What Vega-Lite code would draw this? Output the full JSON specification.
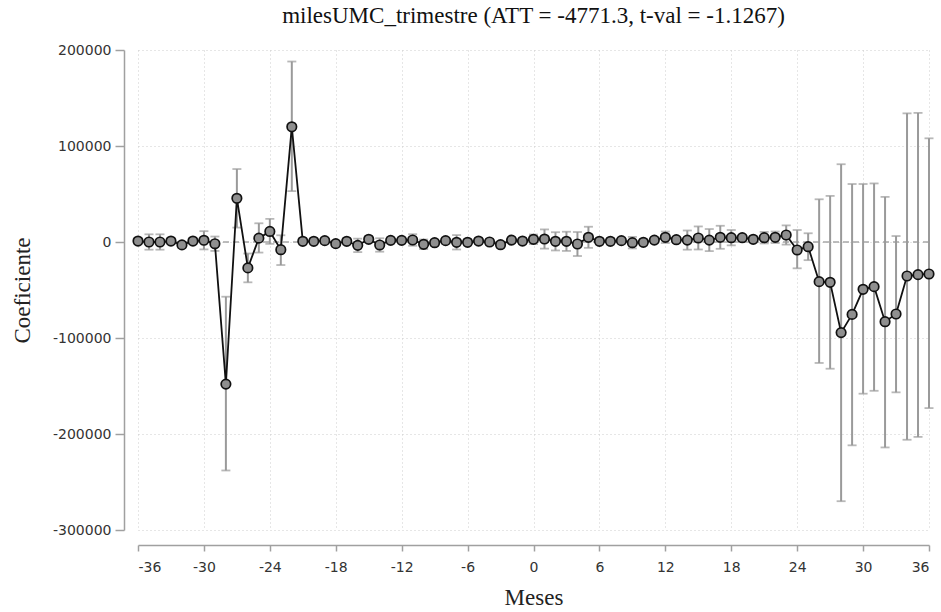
{
  "$schema": "https://vega.github.io/schema/vega-lite/v6.json",
  "width": 791,
  "height": 480,
  "autosize": "none",
  "padding": {"left": 138, "top": 50, "right": 12, "bottom": 82},
  "background": "white",
  "config": {
    "font": "Liberation Serif",
    "view": {"stroke": null},
    "axis": {
      "labelFont": "DejaVu Sans",
      "titleFont": "Liberation Serif",
      "labelFontSize": 14,
      "labelColor": "#333333",
      "titleFontSize": 23,
      "titleFontWeight": "normal",
      "titleColor": "#222222",
      "domainColor": "#a0a0a0",
      "domainWidth": 1.5,
      "tickColor": "#a0a0a0",
      "tickSize": 7,
      "tickWidth": 1.5,
      "grid": true,
      "gridColor": "#cccccc",
      "gridDash": [1, 3],
      "gridWidth": 1
    }
  },
  "title": {
    "text": "milesUMC_trimestre (ATT = -4771.3, t-val = -1.1267)",
    "font": "Liberation Serif",
    "fontSize": 23,
    "fontWeight": "normal",
    "color": "#111111",
    "anchor": "middle",
    "offset": 15
  },
  "data": {
    "values": [
      {"m": -36, "b": 1000, "lo": -2000, "hi": 4000},
      {"m": -35, "b": 0, "lo": -8000, "hi": 8000},
      {"m": -34, "b": 0, "lo": -8000, "hi": 8000},
      {"m": -33, "b": 1000, "lo": -2000, "hi": 4000},
      {"m": -32, "b": -3000, "lo": -6000, "hi": 0},
      {"m": -31, "b": 1000, "lo": -2000, "hi": 4000},
      {"m": -30, "b": 1800, "lo": -7700, "hi": 11300},
      {"m": -29, "b": -1800, "lo": -9300, "hi": 5700},
      {"m": -28, "b": -148000, "lo": -238000, "hi": -57000},
      {"m": -27, "b": 45500, "lo": 15000, "hi": 76000},
      {"m": -26, "b": -27000, "lo": -42000, "hi": -12000},
      {"m": -25, "b": 4000, "lo": -11000, "hi": 19500},
      {"m": -24, "b": 11000, "lo": -2000, "hi": 24000},
      {"m": -23, "b": -8000, "lo": -24000, "hi": 7000},
      {"m": -22, "b": 120000, "lo": 53000, "hi": 188000},
      {"m": -21, "b": 700, "lo": -2300, "hi": 3700},
      {"m": -20, "b": 700, "lo": -2300, "hi": 3700},
      {"m": -19, "b": 1400, "lo": -1600, "hi": 4400},
      {"m": -18, "b": -1700, "lo": -4700, "hi": 1300},
      {"m": -17, "b": 700, "lo": -2300, "hi": 3700},
      {"m": -16, "b": -3500, "lo": -10500, "hi": 3500},
      {"m": -15, "b": 2800, "lo": -200, "hi": 5800},
      {"m": -14, "b": -3100, "lo": -10100, "hi": 3900},
      {"m": -13, "b": 1700, "lo": -1300, "hi": 4700},
      {"m": -12, "b": 1700, "lo": -1300, "hi": 4700},
      {"m": -11, "b": 2100, "lo": -3900, "hi": 8100},
      {"m": -10, "b": -2400, "lo": -7400, "hi": 2600},
      {"m": -9, "b": -700, "lo": -3700, "hi": 2300},
      {"m": -8, "b": 1400, "lo": -1600, "hi": 4400},
      {"m": -7, "b": -300, "lo": -7800, "hi": 7200},
      {"m": -6, "b": -300, "lo": -3300, "hi": 2700},
      {"m": -5, "b": 1000, "lo": -2000, "hi": 4000},
      {"m": -4, "b": 0, "lo": -3000, "hi": 3000},
      {"m": -3, "b": -2800, "lo": -5800, "hi": 200},
      {"m": -2, "b": 2000, "lo": -1000, "hi": 5000},
      {"m": -1, "b": 1000, "lo": -2000, "hi": 4000},
      {"m": 0, "b": 2800, "lo": -2200, "hi": 7800},
      {"m": 1, "b": 3100, "lo": -6900, "hi": 13100},
      {"m": 2, "b": 700, "lo": -8800, "hi": 10200},
      {"m": 3, "b": 700, "lo": -9300, "hi": 10700},
      {"m": 4, "b": -2100, "lo": -14600, "hi": 10400},
      {"m": 5, "b": 4900, "lo": -6100, "hi": 15900},
      {"m": 6, "b": 700, "lo": -2300, "hi": 3700},
      {"m": 7, "b": 700, "lo": -2300, "hi": 3700},
      {"m": 8, "b": 1400, "lo": -1600, "hi": 4400},
      {"m": 9, "b": -700, "lo": -6700, "hi": 5300},
      {"m": 10, "b": -300, "lo": -3300, "hi": 2700},
      {"m": 11, "b": 2000, "lo": -1000, "hi": 5000},
      {"m": 12, "b": 4900, "lo": -1100, "hi": 10900},
      {"m": 13, "b": 2400, "lo": -600, "hi": 5400},
      {"m": 14, "b": 2000, "lo": -8000, "hi": 12000},
      {"m": 15, "b": 4200, "lo": -7800, "hi": 16200},
      {"m": 16, "b": 2000, "lo": -9500, "hi": 13500},
      {"m": 17, "b": 4900, "lo": -7100, "hi": 16900},
      {"m": 18, "b": 4500, "lo": -3500, "hi": 12500},
      {"m": 19, "b": 4500, "lo": 1500, "hi": 7500},
      {"m": 20, "b": 2800, "lo": -200, "hi": 5800},
      {"m": 21, "b": 4500, "lo": -1500, "hi": 10500},
      {"m": 22, "b": 4900, "lo": -1100, "hi": 10900},
      {"m": 23, "b": 7300, "lo": -2700, "hi": 17300},
      {"m": 24, "b": -8300, "lo": -27400, "hi": 12500},
      {"m": 25, "b": -4900, "lo": -18900, "hi": 9100},
      {"m": 26, "b": -41300, "lo": -126000, "hi": 44500},
      {"m": 27, "b": -42000, "lo": -132000, "hi": 48000},
      {"m": 28, "b": -94400, "lo": -270000, "hi": 81000},
      {"m": 29, "b": -75400, "lo": -211800, "hi": 60400},
      {"m": 30, "b": -49300, "lo": -158000, "hi": 60400},
      {"m": 31, "b": -46500, "lo": -155000, "hi": 61000},
      {"m": 32, "b": -83000, "lo": -214000, "hi": 47000},
      {"m": 33, "b": -75000, "lo": -156600, "hi": 6200},
      {"m": 34, "b": -35400, "lo": -206000, "hi": 134000},
      {"m": 35, "b": -34000, "lo": -203000, "hi": 134500},
      {"m": 36, "b": -33300, "lo": -173000, "hi": 108000}
    ]
  },
  "encoding": {
    "x": {
      "field": "m",
      "type": "quantitative",
      "scale": {"domain": [-36, 36], "nice": false, "zero": false},
      "axis": {
        "title": "Meses",
        "values": [-36, -30, -24, -18, -12, -6, 0, 6, 12, 18, 24, 30, 36],
        "labelExpr": "'' + datum.value",
        "offset": 15,
        "tickSize": 6,
        "labelPadding": 9,
        "titlePadding": 12
      }
    }
  },
  "layer": [
    {
      "data": {"values": [{"z": 0}]},
      "mark": {"type": "rule", "color": "#a8a8a8", "strokeDash": [6, 4], "strokeWidth": 1.5},
      "encoding": {
        "x": null,
        "y": {"field": "z", "type": "quantitative", "scale": {"domain": [-300000, 200000], "nice": false}}
      }
    },
    {
      "mark": {"type": "rule", "color": "#9a9a9a", "strokeWidth": 2},
      "encoding": {
        "y": {
          "field": "lo",
          "type": "quantitative",
          "scale": {"domain": [-300000, 200000], "nice": false},
          "axis": {
            "title": "Coeficiente",
            "values": [-300000, -200000, -100000, 0, 100000, 200000],
            "labelExpr": "'' + datum.value",
            "offset": 14,
            "tickSize": 9,
            "labelPadding": 4,
            "titlePadding": 18
          }
        },
        "y2": {"field": "hi"}
      }
    },
    {
      "mark": {"type": "tick", "orient": "horizontal", "color": "#9a9a9a", "size": 9, "thickness": 1.8},
      "encoding": {"y": {"field": "lo", "type": "quantitative"}}
    },
    {
      "mark": {"type": "tick", "orient": "horizontal", "color": "#9a9a9a", "size": 9, "thickness": 1.8},
      "encoding": {"y": {"field": "hi", "type": "quantitative"}}
    },
    {
      "mark": {"type": "line", "color": "#111111", "strokeWidth": 1.8},
      "encoding": {"y": {"field": "b", "type": "quantitative"}}
    },
    {
      "mark": {"type": "point", "shape": "circle", "filled": true, "fill": "#8f8f8f", "stroke": "#111111", "strokeWidth": 1.7, "size": 90, "opacity": 1},
      "encoding": {"y": {"field": "b", "type": "quantitative"}}
    }
  ],
  "resolve": {"scale": {"y": "shared"}}
}
